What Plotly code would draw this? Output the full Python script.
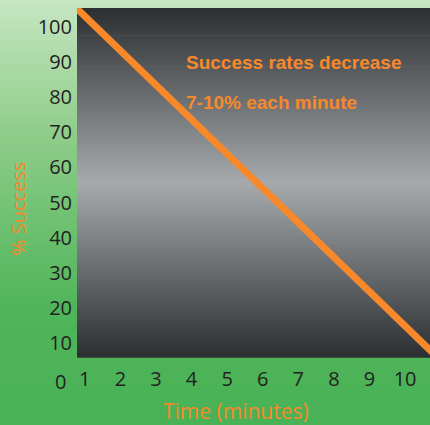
import plotly.graph_objects as go

# Data
time_min = [0.7, 10.8]
success_pct = [106.0, 7.0]
x_ticks = [1, 2, 3, 4, 5, 6, 7, 8, 9, 10]
y_ticks = [10, 20, 30, 40, 50, 60, 70, 80, 90, 100]
note_lines = ["Success rates decrease", "7-10% each minute"]

ORANGE = "#f7892b"
W, H = 430, 425
ML, MR, MT, MB = 77, 0, 8, 68
PW = W - ML - MR
PH = H - MT - MB

def lerp(c1, c2, t):
    return tuple(int(round(a + (b - a) * t)) for a, b in zip(c1, c2))

def interp(stops, f):
    for (f0, c0), (f1, c1) in zip(stops, stops[1:]):
        if f0 <= f <= f1:
            return lerp(c0, c1, (f - f0) / (f1 - f0) if f1 > f0 else 0)
    return stops[-1][1]

shapes = []
# paper gradient (fraction from top of page)
paper_stops = [(0.0, (198, 230, 193)), (0.33, (140, 204, 136)), (0.72, (80, 181, 90)), (1.0, (73, 178, 86))]
N = 85
for i in range(N):
    f0, f1 = i / N, (i + 1) / N
    c = interp(paper_stops, (f0 + f1) / 2)
    y_top_px, y_bot_px = f0 * H, f1 * H + 1
    shapes.append(dict(type="rect", xref="paper", yref="paper", layer="below",
                       x0=-ML / PW - 0.01, x1=1.01,
                       y0=(H - MB - y_bot_px) / PH, y1=(H - MB - y_top_px) / PH,
                       fillcolor="rgb(%d,%d,%d)" % c, line=dict(width=0)))
# plot gradient (fraction from top of plot)
plot_stops = [(0.0, (44, 47, 49)), (0.5, (166, 170, 172)), (1.0, (44, 47, 49))]
N2 = 90
for i in range(N2):
    f0, f1 = i / N2, (i + 1) / N2
    c = interp(plot_stops, (f0 + f1) / 2)
    shapes.append(dict(type="rect", xref="x domain", yref="y domain", layer="below",
                       x0=0, x1=1, y0=1 - f1 - 0.002, y1=1 - f0,
                       fillcolor="rgb(%d,%d,%d)" % c, line=dict(width=0)))

fig = go.Figure()
fig.add_trace(go.Scatter(x=time_min, y=success_pct, mode="lines",
                         line=dict(color=ORANGE, width=7), showlegend=False,
                         hoverinfo="skip"))

tickfont = dict(family="Open Sans", size=20, color="#231f20")
annotations = [
    dict(x=3.80, y=90.0, xref="x", yref="y", text="<b>%s</b>" % note_lines[0], showarrow=False,
         xanchor="left", yanchor="middle",
         font=dict(family="Liberation Sans, Arial", size=19, color=ORANGE)),
    dict(x=3.80, y=78.6, xref="x", yref="y", text="<b>%s</b>" % note_lines[1], showarrow=False,
         xanchor="left", yanchor="middle",
         font=dict(family="Liberation Sans, Arial", size=19, color=ORANGE)),
    dict(x=(60 - ML) / PW, y=0, xref="paper", yref="paper", text="0", showarrow=False,
         xanchor="center", yanchor="top", yshift=-9, font=tickfont),
    dict(x=(18 - ML) / PW, y=0.424, xref="paper", yref="paper", text="% Success", textangle=-90,
         showarrow=False, xanchor="center", yanchor="middle",
         font=dict(family="Open Sans", size=20, color=ORANGE)),
    dict(x=(236 - ML) / PW, y=(H - MB - 411) / PH, xref="paper", yref="paper", text="Time (minutes)",
         showarrow=False, xanchor="center", yanchor="middle",
         font=dict(family="Open Sans", size=21, color=ORANGE)),
]

fig.update_layout(
    width=W, height=H,
    margin=dict(l=ML, r=MR, t=MT, b=MB, pad=0),
    paper_bgcolor="rgb(73,178,86)", plot_bgcolor="rgb(120,124,126)",
    shapes=shapes, annotations=annotations,
    xaxis=dict(range=[0.78, 10.7], tickvals=x_ticks, ticktext=[str(v) for v in x_ticks],
               showgrid=False, zeroline=False, showline=False, ticks="",
               tickfont=tickfont, ticklabelstandoff=8, fixedrange=True),
    yaxis=dict(range=[6.0, 105.4], tickvals=y_ticks, ticktext=[str(v) for v in y_ticks],
               showgrid=False, zeroline=False, showline=False, ticks="",
               tickfont=tickfont, ticklabelstandoff=4, fixedrange=True),
)

fig.write_html("out.html", config={"displayModeBar": False})
